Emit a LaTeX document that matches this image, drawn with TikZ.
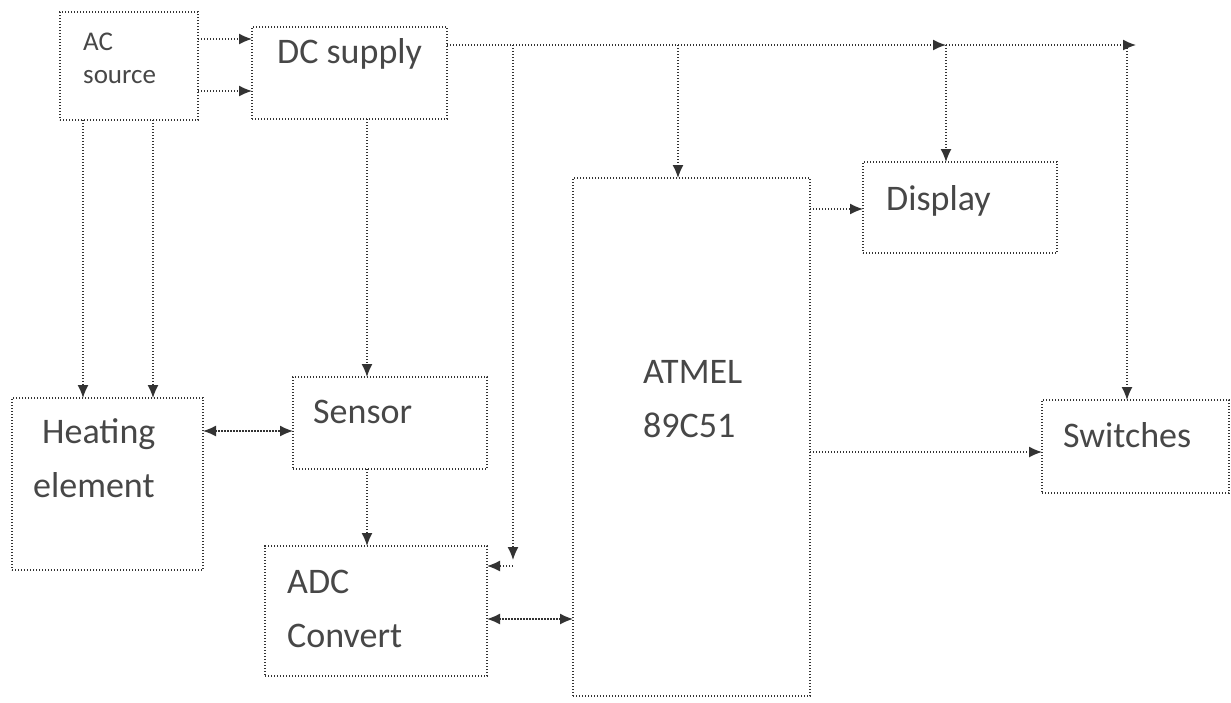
\documentclass[tikz,border=0pt]{standalone}
\usepackage{fontspec}
\setmainfont{Carlito}
\usetikzlibrary{arrows.meta}
\begin{document}
\begin{tikzpicture}[x=1pt,y=-1pt,
  blk/.style={draw=black!80, line width=1.4pt, dash pattern=on 1.4pt off 1.6pt,
    rectangle, inner sep=0pt, outer sep=0pt},
  conn/.style={draw=black!80, line width=1.4pt, dash pattern=on 1.4pt off 1.6pt},
  tip/.tip={Latex[length=13pt,width=11pt]},
  arr/.style={conn, -tip},
  darr/.style={conn, tip-tip},
  lbl/.style={anchor=base west, inner sep=0pt, text=black!72, font=\fontsize{36}{43}\selectfont},
  lbls/.style={lbl, font=\fontsize{27}{32}\selectfont}]
\useasboundingbox (0,0) rectangle (1231,702);
% boxes
\node[blk, minimum width=138pt, minimum height=108pt] (ac) at (129,66) {};
\node[blk, minimum width=195pt, minimum height=92pt] (dc) at (349.5,73) {};
\node[blk, minimum width=191pt, minimum height=172pt] (heat) at (107.5,484) {};
\node[blk, minimum width=194pt, minimum height=92pt] (sens) at (390,423) {};
\node[blk, minimum width=222pt, minimum height=130pt] (adc) at (376,611) {};
\node[blk, minimum width=237pt, minimum height=518pt] (atm) at (691.5,437) {};
\node[blk, minimum width=194pt, minimum height=91pt] (disp) at (960,207.5) {};
\node[blk, minimum width=187pt, minimum height=93pt] (sw) at (1135.5,446.5) {};
% labels
\node[lbls] (tac1) at (83,50) {AC};
\node[lbls] (tac2) at (83,83) {source};
\node[lbl] (tdc) at (277,63) {DC supply};
\node[lbl] (th1) at (42,443) {Heating};
\node[lbl] (th2) at (33,497) {element};
\node[lbl] (ts) at (313,423) {Sensor};
\node[lbl] (ta1) at (287,593) {ADC};
\node[lbl] (ta2) at (287,647) {Convert};
\node[lbl] (tm1) at (643,383) {ATMEL};
\node[lbl] (tm2) at (643,437) {89C51};
\node[lbl] (td) at (886,210) {Display};
\node[lbl] (tw) at (1063,447) {Switches};
% coordinates
\coordinate (j1) at (513,45);
\coordinate (j2) at (678,45);
\coordinate (j3) at (946,45);
\coordinate (j4) at (1127,45);
\coordinate (jend) at (1136,45);
\coordinate (adcin) at (513,560);
\coordinate (adcfrom) at (513,566);
% connectors
\draw[arr] (ac.east |- 0,39) -- (dc.west |- 0,39);
\draw[arr] (ac.east |- 0,91) -- (dc.west |- 0,91);
\draw[arr] (ac.south -| 83,0) -- (heat.north -| 83,0);
\draw[arr] (ac.south -| 153,0) -- (heat.north -| 153,0);
\draw[arr] (dc.south -| 367,0) -- (sens.north -| 367,0);
\draw[darr] (heat.east |- 0,431) -- (sens.west |- 0,431);
\draw[arr] (sens.south -| 367,0) -- (adc.north -| 367,0);
\draw[darr] (adc.east |- 0,619) -- (atm.west |- 0,619);
\draw[arr] (dc.east |- j1) -- (j3);
\draw[arr] (j3) -- (jend);
\draw[arr] (j1) -- (adcin);
\draw[arr] (adcfrom) -- (adc.east |- adcfrom);
\draw[arr] (j2) -- (atm.north -| j2);
\draw[arr] (j3) -- (disp.north -| j3);
\draw[arr] (j4) -- (sw.north -| j4);
\draw[arr] (atm.east |- 0,209) -- (disp.west |- 0,209);
\draw[arr] (atm.east |- 0,452) -- (sw.west |- 0,452);
\end{tikzpicture}
\end{document}
